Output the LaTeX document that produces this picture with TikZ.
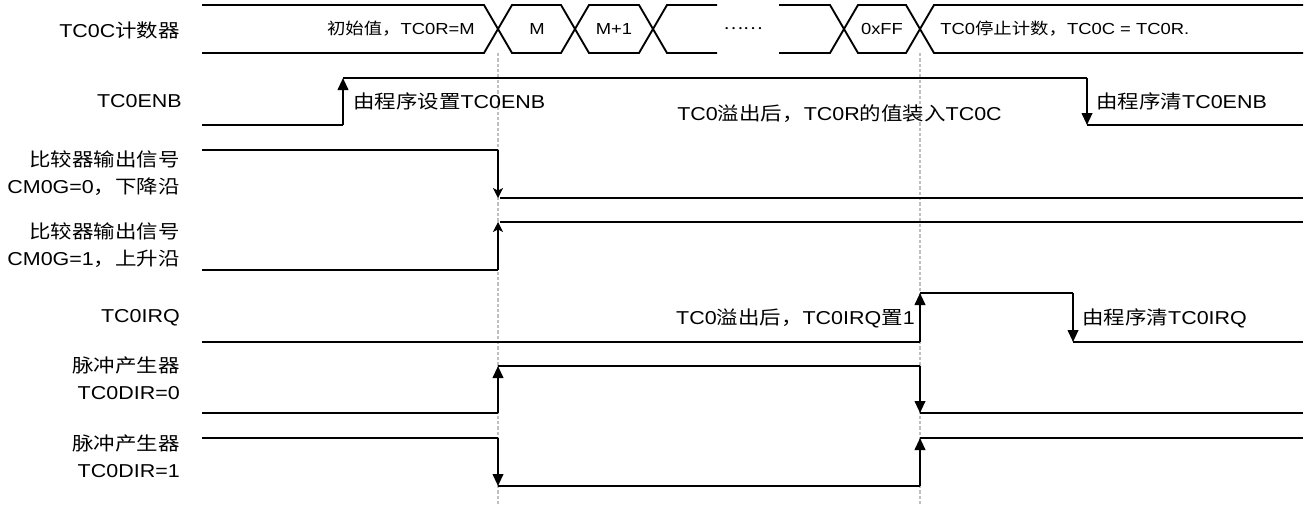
\documentclass[tikz,border=0pt]{standalone}
\usepackage{fontspec}
\setmainfont[FakeStretch=1.15]{Liberation Sans}
\newfontfamily\cjk[FakeStretch=1.15]{Noto Sans CJK SC}
\usetikzlibrary{arrows.meta}
\begin{document}
\begin{tikzpicture}[x=0.75pt,y=-0.75pt,
  sig/.style={line width=1.4pt},
  arr/.style={line width=1.4pt,-{Triangle[width=8pt,length=9pt]}},
  carr/.style={line width=0.8pt,black,-{Stealth[width=7.5pt,length=7.5pt,inset=2pt]}},
  guide/.style={line width=0.8pt,black!25,dash pattern=on 2.5pt off 1.5pt},
  lbl/.style={font=\fontsize{14pt}{20pt}\selectfont,anchor=east,inner sep=0pt,align=right},
  note/.style={font=\fontsize{14pt}{20pt}\selectfont,inner sep=0pt},
  bustxt/.style={font=\fontsize{12pt}{14pt}\selectfont,inner sep=0pt}]
\useasboundingbox (0,0) rectangle (1309,508);

% guide lines
\coordinate (g1t) at (498,53); \coordinate (g1b) at (498,505);
\coordinate (g2t) at (920,53); \coordinate (g2b) at (920,505);
\draw[guide] (g1t) -- (g1b);
\draw[guide] (g2t) -- (g2b);

% ---- TC0C bus ----
\begin{scope}[sig]
\draw (202,5) -- (484,5) -- (512,53) -- (561,53) -- (589,5) -- (639,5) -- (667,53) -- (717,53);
\draw (202,53) -- (484,53) -- (512,5) -- (561,5) -- (589,53) -- (639,53) -- (667,5) -- (717,5);
\draw (779,5) -- (830,5) -- (858,53) -- (906,53) -- (934,5) -- (1303,5);
\draw (779,53) -- (830,53) -- (858,5) -- (906,5) -- (934,53) -- (1303,53);
\end{scope}
\node[lbl] (lc) at (180,30) {TC0C{\cjk 计数器}};
\node[bustxt,anchor=east] (b0) at (475,29) {{\cjk 初始值，}TC0R=M};
\node[bustxt] (b1) at (537,29) {M};
\node[bustxt] (b2) at (614,29) {M+1};
\node[bustxt] (b3) at (743,29) {{\cjk ……}};
\node[bustxt] (b4) at (882,29) {0xFF};
\node[bustxt,anchor=west] (b5) at (940,29) {TC0{\cjk 停止计数，}TC0C = TC0R.};

% ---- TC0ENB ----
\coordinate (e0) at (202,125); \coordinate (e1) at (343,125);
\coordinate (e2) at (343,78); \coordinate (e3) at (1087,78);
\coordinate (e4) at (1087,125); \coordinate (e5) at (1303,125);
\draw[sig] (e0) -- (e1);
\draw[arr] (e1) -- (e2);
\draw[sig] (e2) -- (e3);
\draw[arr] (e3) -- (e4);
\draw[sig] (e4) -- (e5);
\node[lbl] (le) at (182,101) {TC0ENB};
\node[note,anchor=west] (n1) at (353,101) {{\cjk 由程序设置}TC0ENB};
\node[note,anchor=east] (n2) at (1002,114) {TC0{\cjk 溢出后，}TC0R{\cjk 的值装入}TC0C};
\node[note,anchor=west] (n3) at (1096,101) {{\cjk 由程序清}TC0ENB};

% ---- comparator CM0G=0 ----
\coordinate (a0) at (202,150); \coordinate (a1) at (498,150);
\coordinate (a2) at (498,198); \coordinate (a3) at (500,198); \coordinate (a4) at (1303,198);
\draw[sig] (a0) -- (a1);
\draw[carr] (a1) -- (a2);
\draw[sig] (a3) -- (a4);
\node[lbl] (la) at (180,173) {{\cjk 比较器输出信号}\\CM0G=0{\cjk ，下降沿}};

% ---- comparator CM0G=1 ----
\coordinate (c0) at (202,270); \coordinate (c1) at (498,270);
\coordinate (c2) at (498,222); \coordinate (c3) at (500,222); \coordinate (c4) at (1303,222);
\draw[sig] (c0) -- (c1);
\draw[carr] (c1) -- (c2);
\draw[sig] (c3) -- (c4);
\node[lbl] (lcm) at (180,245) {{\cjk 比较器输出信号}\\CM0G=1{\cjk ，上升沿}};

% ---- TC0IRQ ----
\coordinate (i0) at (202,342); \coordinate (i1) at (920,342);
\coordinate (i2) at (920,293); \coordinate (i3) at (1073,293);
\coordinate (i4) at (1073,342); \coordinate (i5) at (1303,342);
\draw[sig] (i0) -- (i1);
\draw[arr] (i1) -- (i2);
\draw[sig] (i2) -- (i3);
\draw[arr] (i3) -- (i4);
\draw[sig] (i4) -- (i5);
\node[lbl] (li) at (180,318) {TC0IRQ};
\node[note,anchor=east] (n4) at (915,318) {TC0{\cjk 溢出后，}TC0IRQ{\cjk 置}1};
\node[note,anchor=west] (n5) at (1082,318) {{\cjk 由程序清}TC0IRQ};

% ---- TC0DIR=0 ----
\coordinate (p0) at (202,413); \coordinate (p1) at (498,413);
\coordinate (p2) at (498,366); \coordinate (p3) at (920,366);
\coordinate (p4) at (920,413); \coordinate (p5) at (1303,413);
\draw[sig] (p0) -- (p1);
\draw[arr] (p1) -- (p2);
\draw[sig] (p2) -- (p3);
\draw[arr] (p3) -- (p4);
\draw[sig] (p4) -- (p5);
\node[lbl] (lp) at (180,378) {{\cjk 脉冲产生器}\\TC0DIR=0};

% ---- TC0DIR=1 ----
\coordinate (q0) at (202,438); \coordinate (q1) at (498,438);
\coordinate (q2) at (498,486); \coordinate (q3) at (920,486);
\coordinate (q4) at (920,438); \coordinate (q5) at (1303,438);
\draw[sig] (q0) -- (q1);
\draw[arr] (q1) -- (q2);
\draw[sig] (q2) -- (q3);
\draw[arr] (q3) -- (q4);
\draw[sig] (q4) -- (q5);
\node[lbl] (lq) at (180,456) {{\cjk 脉冲产生器}\\TC0DIR=1};
\end{tikzpicture}
\end{document}
